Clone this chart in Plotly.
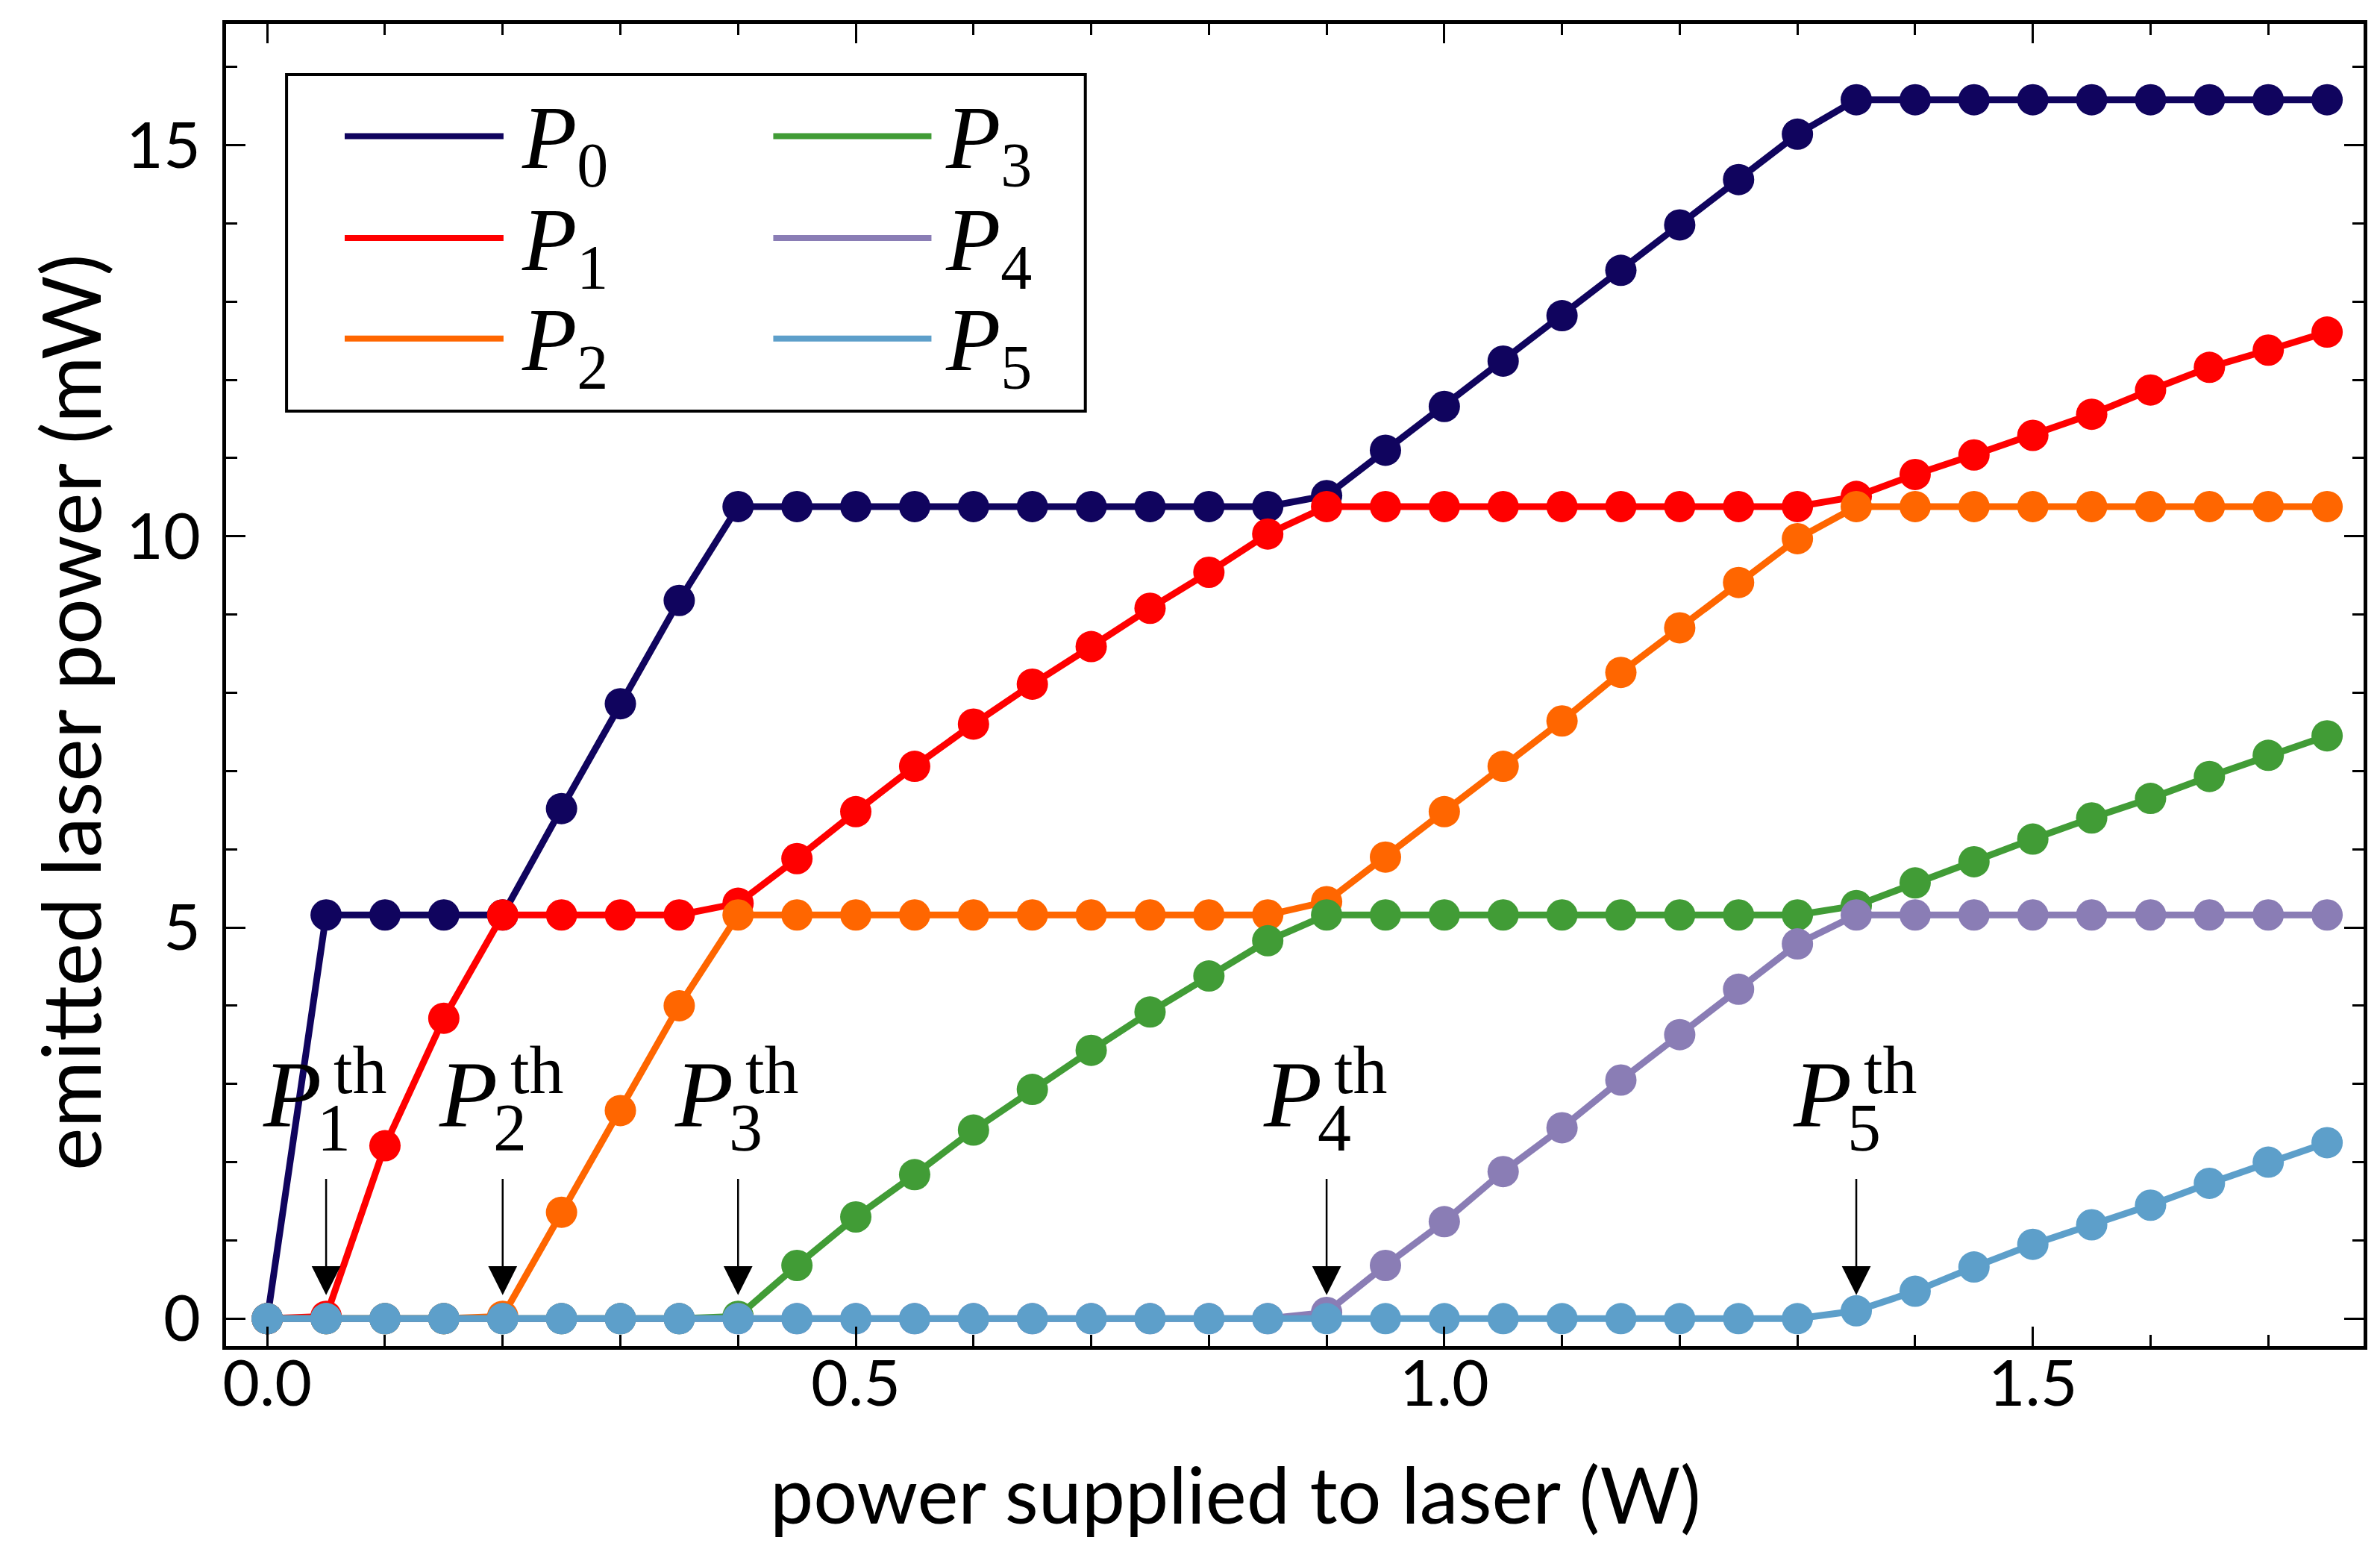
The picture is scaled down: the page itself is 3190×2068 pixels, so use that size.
import plotly.graph_objects as go

# ── data ──
x_supplied = [0.0, 0.05, 0.1, 0.15, 0.2, 0.25, 0.3, 0.35, 0.4, 0.45, 0.5, 0.55,
              0.6, 0.65, 0.7, 0.75, 0.8, 0.85, 0.9, 0.95, 1.0, 1.05, 1.1, 1.15,
              1.2, 1.25, 1.3, 1.35, 1.4, 1.45, 1.5, 1.55, 1.6, 1.65, 1.7, 1.75]

p0 = [0.0, 5.16, 5.16, 5.16, 5.16, 6.52, 7.86, 9.18, 10.38, 10.38, 10.38, 10.38,
      10.38, 10.38, 10.38, 10.38, 10.38, 10.38, 10.52, 11.10, 11.66, 12.24, 12.82, 13.40,
      13.98, 14.56, 15.14, 15.58, 15.58, 15.58, 15.58, 15.58, 15.58, 15.58, 15.58, 15.58]
p1 = [0.0, 0.03, 2.21, 3.84, 5.16, 5.16, 5.16, 5.16, 5.31, 5.88, 6.48, 7.06,
      7.60, 8.11, 8.59, 9.08, 9.54, 10.03, 10.38, 10.38, 10.38, 10.38, 10.38, 10.38,
      10.38, 10.38, 10.38, 10.51, 10.79, 11.04, 11.29, 11.56, 11.87, 12.16, 12.38, 12.61]
p2 = [0.0, 0.0, 0.0, 0.0, 0.03, 1.36, 2.66, 4.00, 5.16, 5.16, 5.16, 5.16,
      5.16, 5.16, 5.16, 5.16, 5.16, 5.16, 5.33, 5.90, 6.48, 7.06, 7.64, 8.26,
      8.83, 9.41, 9.97, 10.38, 10.38, 10.38, 10.38, 10.38, 10.38, 10.38, 10.38, 10.38]
p3 = [0.0, 0.0, 0.0, 0.0, 0.0, 0.0, 0.0, 0.0, 0.03, 0.68, 1.30, 1.84,
      2.41, 2.93, 3.43, 3.92, 4.38, 4.83, 5.16, 5.16, 5.16, 5.16, 5.16, 5.16,
      5.16, 5.16, 5.16, 5.28, 5.57, 5.84, 6.13, 6.40, 6.65, 6.93, 7.20, 7.45]
p4 = [0.0, 0.0, 0.0, 0.0, 0.0, 0.0, 0.0, 0.0, 0.0, 0.0, 0.0, 0.0,
      0.0, 0.0, 0.0, 0.0, 0.0, 0.0, 0.08, 0.68, 1.24, 1.88, 2.44, 3.05,
      3.63, 4.21, 4.79, 5.16, 5.16, 5.16, 5.16, 5.16, 5.16, 5.16, 5.16, 5.16]
p5 = [0.0, 0.0, 0.0, 0.0, 0.0, 0.0, 0.0, 0.0, 0.0, 0.0, 0.0, 0.0,
      0.0, 0.0, 0.0, 0.0, 0.0, 0.0, 0.0, 0.0, 0.0, 0.0, 0.0, 0.0,
      0.0, 0.0, 0.0, 0.10, 0.35, 0.66, 0.95, 1.20, 1.45, 1.73, 2.00, 2.25]

series_names = ["0", "1", "2", "3", "4", "5"]
series_values = [p0, p1, p2, p3, p4, p5]

# threshold arrows: where each mode starts lasing
thresh_labels = ["1", "2", "3", "4", "5"]
thresh_x = [0.05, 0.2, 0.4, 0.9, 1.35]

x_title = "power supplied to laser (W)"
y_title = "emitted laser power (mW)"

# ── style ──
COLORS = ["#10045e", "#ff0000", "#ff6600", "#419c36", "#8a7db5", "#5d9fca"]
SANS = "Lato, 'Open Sans', sans-serif"
SERIF = "'Liberation Serif', 'DejaVu Serif', serif"

fig = go.Figure()

for name, vals, col in zip(series_names, series_values, COLORS):
    fig.add_trace(go.Scatter(
        x=x_supplied, y=vals, mode="lines+markers", name="P" + name,
        line=dict(color=col, width=9),
        marker=dict(color=col, size=42, line=dict(width=0)),
        showlegend=False,
    ))

# hand-built legend (line samples without markers, 2 columns)
shapes = [dict(type="rect", xref="paper", yref="paper",
               x0=0.0283, x1=0.402, y0=0.7071, y1=0.9616,
               line=dict(color="black", width=4), fillcolor="white", layer="below")]
annotations = []
leg_rows = [0.915, 0.838, 0.762]
leg_cols = [(0.0555, 0.1298, 0.1376), (0.256, 0.330, 0.3357)]
for i, (name, col) in enumerate(zip(series_names, COLORS)):
    c0, c1, tx = leg_cols[i // 3]
    yy = leg_rows[i % 3]
    shapes.append(dict(type="line", xref="paper", yref="paper",
                       x0=c0, x1=c1, y0=yy, y1=yy,
                       line=dict(color=col, width=8)))
    annotations.append(dict(xref="paper", yref="paper", x=tx, y=yy - 0.006,
                            xanchor="left", yanchor="middle", showarrow=False,
                            text="<i>P</i><sub>" + name + "</sub>",
                            font=dict(family=SERIF, size=120, color="black")))

# threshold labels with arrows
for lab, xv in zip(thresh_labels, thresh_x):
    annotations.append(dict(x=xv, y=0.3, ax=xv, ay=1.8, xref="x", yref="y",
                            axref="x", ayref="y", text="", showarrow=True,
                            arrowhead=2, arrowsize=3.1, arrowwidth=2.5,
                            arrowcolor="black"))
    annotations.append(dict(x=xv, y=2.86, xref="x", yref="y", xshift=-46,
                            text="<i>P</i>", showarrow=False,
                            xanchor="center", yanchor="middle",
                            font=dict(family=SERIF, size=128, color="black")))
    annotations.append(dict(x=xv, y=3.18, xref="x", yref="y", xshift=46,
                            text="th", showarrow=False,
                            xanchor="center", yanchor="middle",
                            font=dict(family=SERIF, size=92, color="black")))
    annotations.append(dict(x=xv, y=2.44, xref="x", yref="y", xshift=10,
                            text=lab, showarrow=False,
                            xanchor="center", yanchor="middle",
                            font=dict(family=SERIF, size=90, color="black")))

# axis titles placed as annotations (the reference's are off-centre)
annotations.append(dict(xref="paper", yref="paper", x=0.4723, y=-0.1117,
                        text=x_title, showarrow=False,
                        xanchor="center", yanchor="middle",
                        font=dict(family=SANS, size=104, color="black")))
annotations.append(dict(xref="paper", yref="paper", x=-0.0733, y=0.4797,
                        text=y_title, showarrow=False, textangle=-90,
                        xanchor="center", yanchor="middle",
                        font=dict(family=SANS, size=109, color="black")))

axis_common = dict(
    showline=True, linecolor="black", linewidth=5, mirror="allticks",
    ticks="inside", ticklen=26, tickwidth=3, tickcolor="black",
    showgrid=False, zeroline=False,
    tickfont=dict(family=SANS, size=86, color="black"),
)

fig.update_layout(
    width=3190, height=2068,
    paper_bgcolor="white", plot_bgcolor="white",
    margin=dict(l=295, r=30, t=24, b=272),
    shapes=shapes, annotations=annotations,
    xaxis=dict(axis_common, range=[-0.035, 1.781], tickvals=[0.0, 0.5, 1.0, 1.5],
               tickformat=".1f", ticklabelstandoff=-28,
               minor=dict(dtick=0.1, tick0=0, ticks="inside", ticklen=15,
                          tickwidth=3, tickcolor="black")),
    yaxis=dict(axis_common, range=[-0.35, 16.55], tickvals=[0, 5, 10, 15],
               ticklabelstandoff=12,
               minor=dict(dtick=1, tick0=0, ticks="inside", ticklen=15,
                          tickwidth=3, tickcolor="black")),
)

fig.write_html("out.html")
